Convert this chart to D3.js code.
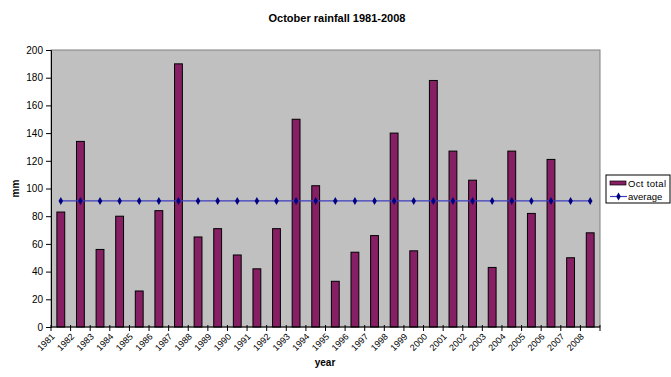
<!DOCTYPE html>
<html lang="en">
<head>
<meta charset="utf-8">
<script src="https://d3js.org/d3.v7.min.js"></script>
<style>
  body { margin: 0; background: #fff; }
  text { font-family: "Liberation Sans", Arial, sans-serif; }
</style>
</head>
<body>
<svg id="chart" width="671" height="377"></svg>
<script>
const years = ["1981","1982","1983","1984","1985","1986","1987","1988","1989","1990",
  "1991","1992","1993","1994","1995","1996","1997","1998","1999","2000",
  "2001","2002","2003","2004","2005","2006","2007","2008"];
const octTotal = [83, 134, 56, 80, 26, 84, 190, 65, 71, 52, 42, 71, 150, 102, 33, 54,
  66, 140, 55, 178, 127, 106, 43, 127, 82, 121, 50, 68];
const average = [91, 91, 91, 91, 91, 91, 91, 91, 91, 91, 91, 91, 91, 91,
  91, 91, 91, 91, 91, 91, 91, 91, 91, 91, 91, 91, 91, 91];
const yTicks = [0, 20, 40, 60, 80, 100, 120, 140, 160, 180, 200];

const svg = d3.select("#chart");
const plotL = 51, plotR = 600, plotT = 50, plotB = 327;

const x = d3.scaleBand().domain(years).range([plotL, plotR]).paddingInner(0).paddingOuter(0);
const y = d3.scaleLinear().domain([0, 200]).range([plotB, plotT]);
const barW = x.bandwidth() / 2.5;

// plot area
svg.append("rect")
  .attr("x", plotL).attr("y", plotT)
  .attr("width", plotR - plotL).attr("height", plotB - plotT)
  .attr("fill", "#c0c0c0").attr("stroke", "#808080");

// bars
svg.append("g").selectAll("rect")
  .data(octTotal)
  .join("rect")
  .attr("x", (d, i) => x(years[i]) + (x.bandwidth() - barW) / 2)
  .attr("y", d => y(d))
  .attr("width", barW)
  .attr("height", d => plotB - y(d))
  .attr("fill", "#861f63")
  .attr("stroke", "#000")
  .attr("stroke-width", 1);

// average line
const line = d3.line()
  .x((d, i) => x(years[i]) + x.bandwidth() / 2)
  .y(d => y(d));
svg.append("path")
  .datum(average)
  .attr("d", line)
  .attr("fill", "none")
  .attr("stroke", "#3c3cc0")
  .attr("stroke-width", 1.2);
svg.append("g").selectAll("path")
  .data(average)
  .join("path")
  .attr("d", d3.symbol(d3.symbolDiamond, 18))
  .attr("transform", (d, i) => `translate(${x(years[i]) + x.bandwidth() / 2},${y(d)})`)
  .attr("fill", "#000080");

// y axis
const yAxis = svg.append("g")
  .attr("transform", `translate(${plotL},0)`)
  .call(d3.axisLeft(y).tickValues(yTicks).tickSize(5).tickPadding(3));
yAxis.select(".domain").attr("stroke", "#000");
yAxis.selectAll("text").attr("font-size", 10).attr("fill", "#000")
  .style("font-family", "'Liberation Sans', Arial, sans-serif");

// x axis: ticks and labels at category boundaries
const xg = svg.append("g");
xg.append("line")
  .attr("x1", plotL).attr("x2", plotR).attr("y1", plotB).attr("y2", plotB)
  .attr("stroke", "#000");
const bounds = years.map(d => x(d)).concat([plotR]);
xg.selectAll("line.tick")
  .data(bounds)
  .join("line")
  .attr("class", "tick")
  .attr("x1", d => d).attr("x2", d => d)
  .attr("y1", plotB - 2).attr("y2", plotB + 4)
  .attr("stroke", "#000");
xg.selectAll("text")
  .data(years)
  .join("text")
  .attr("transform", d => `translate(${x(d) + 2},${plotB + 8}) rotate(-45)`)
  .attr("text-anchor", "end")
  .attr("dy", "0.35em")
  .attr("font-size", 9)
  .attr("fill", "#000")
  .text(d => d);

// titles
svg.append("text")
  .attr("x", 337).attr("y", 22)
  .attr("text-anchor", "middle")
  .attr("font-size", 11).attr("font-weight", "bold")
  .text("October rainfall 1981-2008");
svg.append("text")
  .attr("x", 325).attr("y", 366)
  .attr("text-anchor", "middle")
  .attr("font-size", 10).attr("font-weight", "bold")
  .text("year");
svg.append("text")
  .attr("transform", `translate(19,${(plotT + plotB) / 2}) rotate(-90)`)
  .attr("text-anchor", "middle")
  .attr("font-size", 10).attr("font-weight", "bold")
  .text("mm");

// legend
const lg = svg.append("g").attr("transform", "translate(606,175)");
lg.append("rect").attr("width", 64).attr("height", 28)
  .attr("fill", "#fff").attr("stroke", "#000");
lg.append("rect").attr("x", 4).attr("y", 6).attr("width", 16).attr("height", 4)
  .attr("fill", "#861f63").attr("stroke", "#000").attr("stroke-width", 0.7);
lg.append("text").attr("x", 22).attr("y", 11.5).attr("font-size", 9.5)
  .attr("textLength", 38).text("Oct total");
lg.append("line").attr("x1", 4).attr("x2", 21).attr("y1", 21.5).attr("y2", 21.5)
  .attr("stroke", "#3c3cc0").attr("stroke-width", 1.2);
lg.append("path").attr("d", d3.symbol(d3.symbolDiamond, 18))
  .attr("transform", "translate(12.5,21.5)").attr("fill", "#000080");
lg.append("text").attr("x", 22).attr("y", 24.5).attr("font-size", 9.5).text("average");
</script>
</body>
</html>
